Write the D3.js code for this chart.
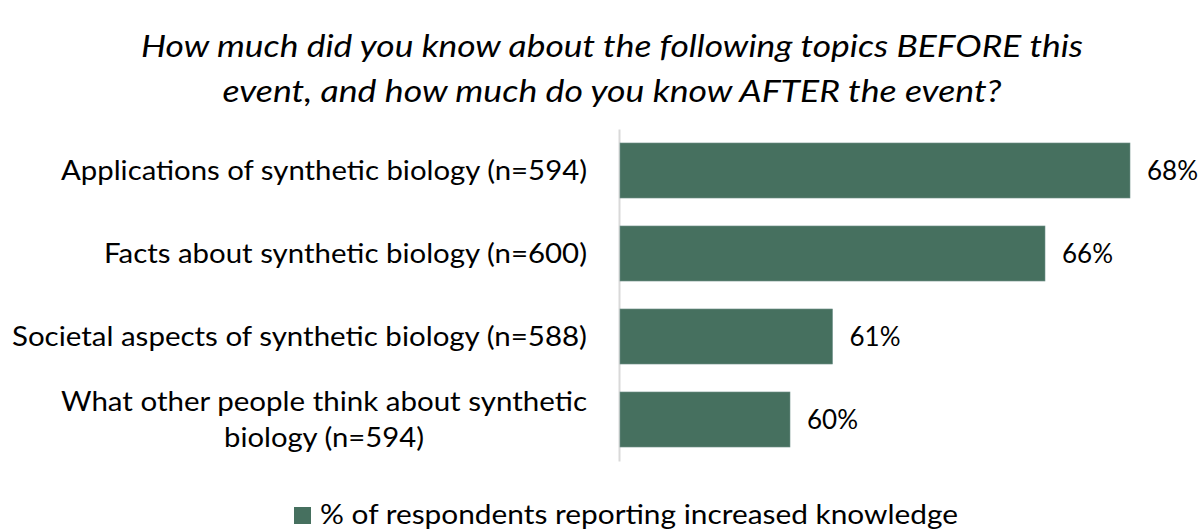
<!DOCTYPE html>
<html>
<head>
<meta charset="utf-8">
<script src="https://cdn.jsdelivr.net/npm/d3@7"></script>
<style>
  html, body { margin: 0; padding: 0; background: #fff; }
  svg { display: block; font-family: Lato, "Open Sans", sans-serif; }
</style>
</head>
<body>
<svg id="chart" width="1202" height="531"></svg>
<script>
// ---- data ----
const categories = [
  ["Applications of synthetic biology (n=594)"],
  ["Facts about synthetic biology (n=600)"],
  ["Societal aspects of synthetic biology (n=588)"],
  ["What other people think about synthetic", "biology (n=594)"]
];
const values = [68, 66, 61, 60];
const valueLabels = ["68%", "66%", "61%", "60%"];
const titleLines = [
  "How much did you know about the following topics BEFORE this",
  "event, and how much do you know AFTER the event?"
];
const legendLabel = "% of respondents reporting increased knowledge";

// ---- layout ----
const barColor = "#46705f";
const svg = d3.select("#chart");

const x = d3.scaleLinear().domain([56, 68]).range([620, 1130]);
const y = d3.scaleBand().domain(d3.range(categories.length))
  .range([129, 461]).paddingInner(0.337).paddingOuter(0.1685);

// shrink text horizontally to a target width while keeping its font size (height)
function fitWidth(sel, target) {
  const w = sel.node().getComputedTextLength();
  if (w > 0) sel.attr("textLength", target).attr("lengthAdjust", "spacingAndGlyphs");
}

// title
const titleFs = 30;
const titleWidths = [942, 779];
const titleY = [57, 102];
titleLines.forEach((ln, k) => {
  const t = svg.append("text").attr("x", 612).attr("y", titleY[k])
    .attr("text-anchor", "middle").attr("font-style", "italic")
    .attr("font-size", titleFs).attr("fill", "#000").text(ln);
  fitWidth(t, titleWidths[k]);
});

// axis line (y axis, no ticks)
const yAxis = d3.axisLeft(y).tickSize(0).tickFormat("");
const ax = svg.append("g").attr("transform", "translate(619,0)").call(yAxis);
ax.select(".domain").attr("stroke", "#d9d9d9").attr("stroke-width", 2);

// bars
svg.append("g").selectAll("rect").data(values).join("rect")
  .attr("x", x(56))
  .attr("y", (d, i) => y(i))
  .attr("width", d => x(d) - x(56))
  .attr("height", y.bandwidth())
  .attr("fill", barColor)
  .attr("stroke", "#6f918a").attr("stroke-width", 0.6);

// category labels
const labelFs = 27;
const labelWidths = [[526], [483], [575], [526, 200]];
const labelRight = 587;
categories.forEach((lines, i) => {
  const cy = y(i) + y.bandwidth() / 2;
  const lh = 35.5;
  lines.forEach((ln, k) => {
    const w = labelWidths[i][k];
    const yy = cy + (k - (lines.length - 1) / 2) * lh;
    // multi-line labels are centred within the right-aligned block
    const blockW = d3.max(labelWidths[i]);
    const cx = labelRight - blockW / 2;
    const t = svg.append("text").attr("font-size", labelFs).attr("fill", "#000")
      .attr("x", cx).attr("y", yy).attr("dy", "0.36em")
      .attr("text-anchor", "middle").text(ln);
    fitWidth(t, w);
  });
});

// value labels
svg.append("g").selectAll("text").data(values).join("text")
  .attr("x", d => x(d) + 17)
  .attr("y", (d, i) => y(i) + y.bandwidth() / 2)
  .attr("dy", "0.36em")
  .attr("font-size", 26).attr("fill", "#000")
  .text((d, i) => valueLabels[i]);

// legend
svg.append("rect").attr("x", 294).attr("y", 507).attr("width", 17).attr("height", 17)
  .attr("fill", barColor);
const lt = svg.append("text").attr("x", 320).attr("y", 524)
  .attr("font-size", 27).attr("fill", "#000").text(legendLabel);
fitWidth(lt, 638);
</script>
</body>
</html>
